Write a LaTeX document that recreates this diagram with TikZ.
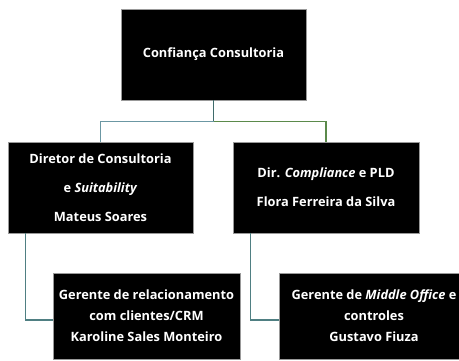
\documentclass[tikz,border=0pt]{standalone}
\usepackage{fontspec}
\setmainfont{Open Sans}
\definecolor{eloA}{HTML}{3F6B6B}
\definecolor{eloB}{HTML}{6B97A3}
\definecolor{eloC}{HTML}{5B8A4B}
\definecolor{eloD}{HTML}{4F7F82}
\begin{document}
\begin{tikzpicture}[x=1pt,y=-1pt]
            \tikzset{
                cargo/.style={draw=black!40,fill=black,text=white,align=center,inner sep=0pt,
                    font=\bfseries\fontsize{12.8}{29}\selectfont},
                gerente/.style={cargo,font=\bfseries\fontsize{12.8}{21}\selectfont},
                elo/.style={line width=1.1pt}}
            \useasboundingbox (0,0) rectangle (459,360);
            \clip (0,0) rectangle (459,360);
            \node[cargo,minimum width=185pt,minimum height=91pt] (topo) at (213.5,54.5) {Confiança Consultoria};
            \node[cargo,minimum width=185pt,minimum height=91pt] (dir1) at (100.5,187.5) {Diretor de Consultoria\\e \textit{Suitability}\\Mateus Soares};
            \node[cargo,minimum width=186pt,minimum height=91pt] (dir2) at (326,187.5) {Dir. \textit{Compliance} e PLD\\Flora Ferreira da Silva};
            \node[gerente,minimum width=187pt,minimum height=86pt] (ger1) at (146.5,316) {Gerente de relacionamento\\com clientes/CRM\\Karoline Sales Monteiro};
            \node[gerente,minimum width=190pt,minimum height=86pt] (ger2) at (374,316) {Gerente de \textit{Middle Office} e\\controles\\Gustavo Fiuza};
            % ligacoes
            \draw[elo,eloA] (topo.south) -- ++(0,21) coordinate (meio);
            \draw[elo,eloB] (meio) -| (dir1.north);
            \draw[elo,eloC] (meio) -| (dir2.north);
            \draw[elo,eloD] ([xshift=18pt]dir1.south west) |- ([yshift=-4pt]ger1.west);
            \draw[elo,eloD] ([xshift=18pt]dir2.south west) |- ([yshift=-4pt]ger2.west);
        \end{tikzpicture}
\end{document}
